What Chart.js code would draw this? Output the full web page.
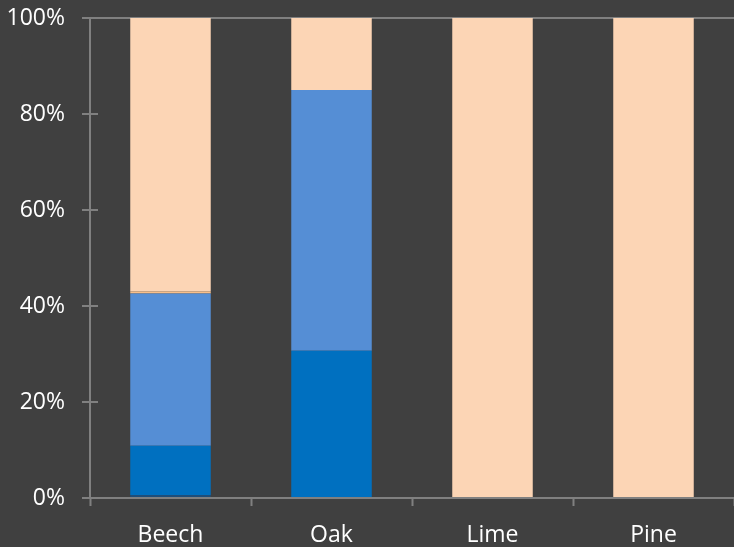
<!DOCTYPE html>
<html>
<head>
<meta charset="utf-8">
<script src="https://cdn.jsdelivr.net/npm/chart.js@4"></script>
<style>
  html, body { margin: 0; padding: 0; background: #404040; }
  #wrap { width: 734px; height: 547px; }
</style>
</head>
<body>
<div id="wrap"><canvas id="c"></canvas></div>
<script>
// categories and series (percent of total)
const species = ['Beech', 'Oak', 'Lime', 'Pine'];
const seriesNavy = [0.6, 0, 0, 0];
const seriesBlue = [10.3, 30.7, 0, 0];
const seriesLightBlue = [31.7, 54.3, 0, 0];
const seriesOrange = [0.4, 0, 0, 0];
const seriesPeach = [57.0, 15.0, 100, 100];
const yTicks = [0, 20, 40, 60, 80, 100];

const axisGrey = '#808080';
const textColor = '#ffffff';

// y tick marks cross the axis: draw the inner half
const crossTicks = {
  id: 'crossTicks',
  afterDatasetsDraw(chart) {
    const y = chart.scales.y, ctx = chart.ctx;
    ctx.save();
    ctx.strokeStyle = axisGrey;
    ctx.lineWidth = 2;
    yTicks.forEach(v => {
      const py = Math.round(y.getPixelForValue(v));
      ctx.beginPath();
      ctx.moveTo(y.right, py);
      ctx.lineTo(y.right + 8, py);
      ctx.stroke();
    });
    ctx.restore();
  }
};

new Chart(document.getElementById('c').getContext('2d'), {
  type: 'bar',
  data: {
    labels: species,
    datasets: [
      { data: seriesNavy, backgroundColor: '#1f4e79' },
      { data: seriesBlue, backgroundColor: '#0070c0' },
      { data: seriesLightBlue, backgroundColor: '#558ed5' },
      { data: seriesOrange, backgroundColor: '#f9bf8a' },
      { data: seriesPeach, backgroundColor: '#fcd5b5' }
    ]
  },
  options: {
    maintainAspectRatio: false,
    responsive: true,
    animation: false,
    layout: { padding: { top: 18, right: 0, left: 0, bottom: 0 } },
    datasets: { bar: { categoryPercentage: 1, barPercentage: 0.5 } },
    plugins: { legend: { display: false }, tooltip: { enabled: false } },
    scales: {
      x: {
        stacked: true,
        afterFit: s => { s.height = 49; s.paddingLeft = 0; s.paddingRight = 0; },
        border: { color: axisGrey, width: 2 },
        grid: { offset: true, drawOnChartArea: false, tickLength: 8, tickColor: axisGrey, tickWidth: 2 },
        ticks: { color: textColor, padding: 16, font: { family: 'Open Sans', size: 23 } }
      },
      y: {
        stacked: true,
        min: 0,
        max: 100,
        afterFit: s => { s.width = 90; s.paddingTop = 0; s.paddingBottom = 0; },
        afterBuildTicks: s => { s.ticks = yTicks.map(v => ({ value: v })); },
        border: { color: axisGrey, width: 2 },
        grid: {
          color: c => (c.tick && c.tick.value === 100 ? axisGrey : 'transparent'),
          lineWidth: 2,
          tickLength: 8,
          tickColor: axisGrey,
          tickWidth: 2
        },
        ticks: {
          color: textColor,
          padding: 17,
          font: { family: 'Open Sans', size: 23 },
          callback: v => v + '%'
        }
      }
    }
  },
  plugins: [crossTicks]
});
</script>
</body>
</html>
